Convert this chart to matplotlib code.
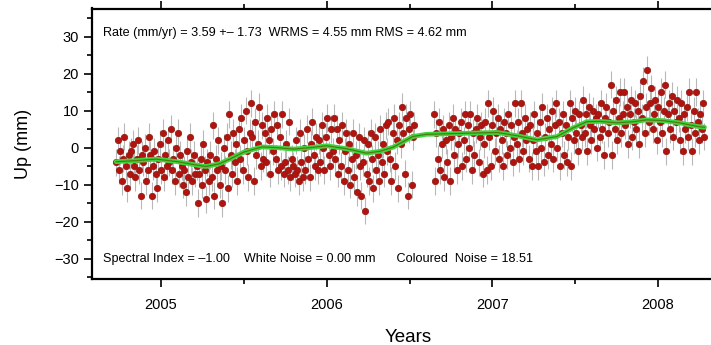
import numpy as np
import matplotlib.pyplot as plt
from matplotlib.ticker import MultipleLocator

plt.rcParams['font.family'] = ['Liberation Sans', 'DejaVu Sans']

# Serie diaria (cada 3 dias) antes del hueco de 2006.5
paso = 3 / 365.25
inicio_1 = 2004.73
up_1 = [
    -4, 2, -6, -1, -9, -3, 3, -5, -11, -2,
    -7, -1, 1, -5, -8, -3, 2, -6, -13, -2,
    -4, 0, -9, -6, 3, -2, -13, -5, -1, -7,
    -11, -3, 1, -6, 4, -8, -2, -5, 2, -4,
    5, -6, -3, -9, 0, 4, -7, -2, -5, -10,
    -6, -12, -1, -8, 3, -4, -9, -2, -7, -5,
    -15, -7, -3, -10, 1, -6, -14, -4, -9, -2,
    -8, 6, -13, -3, -6, 2, -10, -5, -15, 0,
    -6, 3, -11, 9, -2, -7, 4, -4, 1, -9,
    5, -3, 8, -6, 2, 10, -1, -8, 4, 12,
    3, -9, 7, -2, 1, 11, -5, 6, -3, 4,
    -4, 8, 2, -7, 5, -1, 9, -3, 6, -6,
    3, -5, 9, -7, -4, 1, -6, 7, -8, -3,
    -5, -7, 2, -6, -9, 4, -4, -8, 0, -6,
    5, -3, -8, 1, 7, -2, -5, 3, -6, 2,
    -4, 6, 0, -6, 3, 8, -2, -5, 5, -1,
    8, -3, 5, -7, 2, -5, 6, -9, -1, 4,
    -6, 1, -10, -3, 4, -8, -2, -12, 3, -5,
    -13, -4, 2, -17, -7, 1, -9, 4, -3, -11,
    3, -6, -2, -9, 5, -4, 1, -7, 6, -1,
    7, -3, -9, 4, 8, -5, 2, -11, 6, 1,
    11, 4, -7, 8, -13, 5, 9, -10, 3, 6,
]

# Serie despues del hueco
inicio_2 = 2006.645
up_2 = [
    9, -9, 4, -3, 7, -6, 1, 5, -8, 2,
    -4, 6, -9, 3, 8, -2, 5, -6, 1, 4,
    7, -5, 2, 9, -3, 6, 0, 9, -6, 4,
    -2, 5, 8, -4, 3, 6, -7, 1, 7, -6,
    12, 3, -5, 6, 10, -1, 4, 8, -3, 5,
    2, -5, 7, 4, -2, 9, 0, 6, -4, 3,
    12, 1, 7, -3, 12, 4, -1, 8, 2, 5,
    -3, 6, -5, 2, 9, -1, 4, -5, 7, 0,
    11, -4, 3, 8, -2, 5, 1, 10, -3, 6,
    12, 0, 7, -5, 4, 9, -2, 6, -4, 3,
    12, -5, 8, 2, 10, 4, -1, 9, 6, 3,
    13, 4, 9, -1, 11, 6, 2, 10, 5, 8,
    0, 9, 3, 12, 5, -2, 8, 11, 4, 7,
    17, -2, 10, 5, 13, 2, 8, 15, 4, 9,
    15, 6, 11, 1, 9, 13, 3, 7, 12, 5,
    10, 1, 14, 8, 18, 4, 11, 21, 7, 12,
    16, 5, 9, 13, 2, 11, 7, 15, 4, 10,
    17, -1, 9, 12, 5, 14, 3, 10, 7, 13,
    8, 2, 12, -1, 9, 5, 11, 3, 15, 6,
    -1, 10, 4, 15, 7, 2, 9, 5, 12, 3,
]
sigma = 3.7

# Curva suavizada (verde)
anio_suave = [2004.73, 2004.85, 2004.97, 2005.10, 2005.20, 2005.27, 2005.35, 2005.42,
              2005.50, 2005.61, 2005.70, 2005.80, 2005.90, 2006.00, 2006.12, 2006.24,
              2006.32, 2006.40, 2006.47, 2006.52, 2006.60, 2006.69, 2006.85, 2007.03,
              2007.15, 2007.27, 2007.39, 2007.48, 2007.57, 2007.65, 2007.75, 2007.85,
              2007.93, 2008.03, 2008.13, 2008.24, 2008.28]
up_suave = [-3.8, -3.5, -3.1, -3.8, -4.6, -5.1, -4.4, -3.0,
            -1.2, 0.2, 0.0, -0.4, 0.0, 0.5, -0.3, -1.5,
            -1.0, 0.1, 1.8, 3.0, 3.6, 3.7, 3.9, 4.1,
            3.2, 2.1, 3.0, 5.2, 7.0, 7.1, 6.7, 7.0,
            7.5, 7.3, 6.7, 5.7, 5.5]

t1 = inicio_1 + paso * np.arange(len(up_1))
t2 = inicio_2 + paso * np.arange(len(up_2))
t = np.concatenate([t1, t2])
up = np.array(up_1 + up_2, dtype=float)

fig = plt.figure(figsize=(7.11, 3.45), dpi=100)
ax = fig.add_axes([92 / 711, 66 / 345, 633 / 711, 270.5 / 345])

ax.errorbar(t, up, yerr=sigma, fmt='none', ecolor='#b8b8b8', elinewidth=0.8, zorder=1)
ax.plot(t, up, 'o', ms=4.6, mfc='#b3120f', mec='#8a1a10', mew=0.5, zorder=2)
ax.plot(anio_suave, up_suave, '-', color='#3fd43f', lw=3.4, zorder=3, solid_capstyle='round')
ax.plot(anio_suave, up_suave, '-', color='#4f7a10', lw=0.9, zorder=4)

ax.set_xlim(2004.5836, 2008.4036)
ax.set_ylim(-35.5, 37.6)
ax.xaxis.set_major_locator(MultipleLocator(1))
ax.xaxis.set_minor_locator(MultipleLocator(0.5))
ax.yaxis.set_major_locator(MultipleLocator(10))
ax.yaxis.set_minor_locator(MultipleLocator(5))
ax.xaxis.set_major_formatter(plt.FuncFormatter(lambda v, p: '%d' % v))
ax.yaxis.set_major_formatter(plt.FuncFormatter(lambda v, p: ('\u2212%d' % -v) if v < 0 else '%d' % v))
ax.tick_params(which='both', direction='out', top=True, right=True, width=1.2, labelsize=10.5)
ax.tick_params(which='major', length=6)
ax.tick_params(which='minor', length=3.5)
ax.tick_params(axis='x', pad=8)
for s in ax.spines.values():
    s.set_linewidth(1.6)

ax.set_ylabel('Up (mm)', fontsize=13, labelpad=16)
ax.set_xlabel('Years', fontsize=13.5, labelpad=12)

# textos en pixeles de la figura (origen abajo a la izquierda)
ax.text(103, 345 - 33, 'Rate (mm/yr) = 3.59 +\u2013 1.73  WRMS = 4.55 mm RMS = 4.62 mm',
        transform=None, fontsize=9.1, va='center', ha='left')
ax.text(103, 345 - 259, 'Spectral Index = \u20131.00    White Noise = 0.00 mm      Coloured  Noise = 18.51',
        transform=None, fontsize=9.1, va='center', ha='left')

fig.savefig('out.png', dpi=100)
